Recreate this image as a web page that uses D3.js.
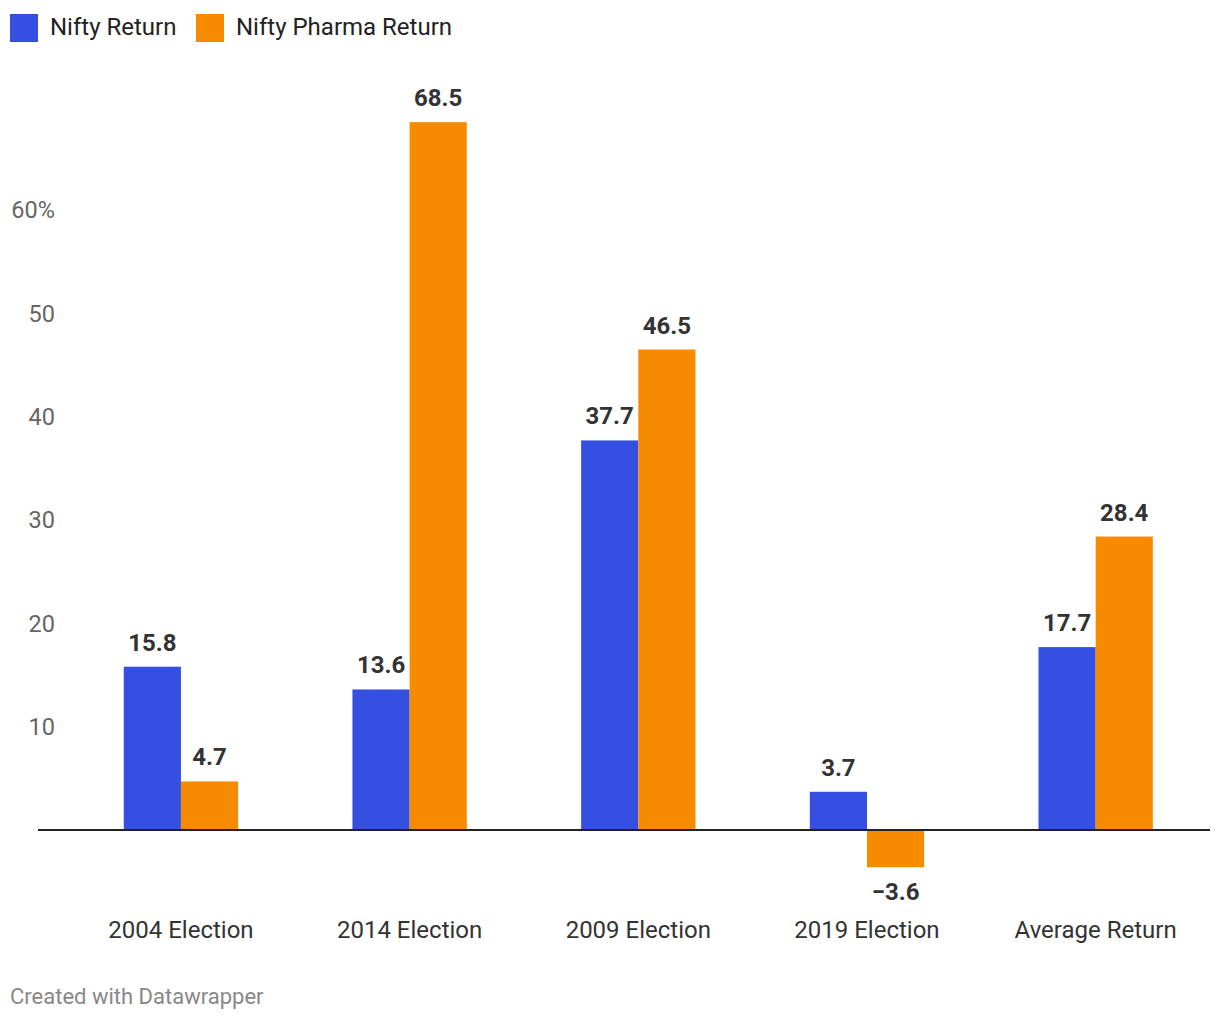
<!DOCTYPE html>
<html><head><meta charset="utf-8">
<script src="https://cdn.jsdelivr.net/npm/d3@7"></script>
<style>body{margin:0;background:#fff}svg{display:block;font-family:Roboto,sans-serif}</style>
</head><body>
<svg id="c" width="1220" height="1020"></svg>
<script>
const categories = ["2004 Election","2014 Election","2009 Election","2019 Election","Average Return"];
const seriesNames = ["Nifty Return","Nifty Pharma Return"];
const niftyReturn = [15.8,13.6,37.7,3.7,17.7];
const pharmaReturn = [4.7,68.5,46.5,-3.6,28.4];
const yTicks = [10,20,30,40,50,60];
const colors = ["#3550e0","#f78b00"];

const svg = d3.select("#c");
const x = d3.scaleBand().domain(categories).range([66.6,1210]).paddingInner(0).paddingOuter(0);
const y = d3.scaleLinear().domain([0,60]).range([830,210]);
const barW = x.bandwidth()*0.25;

// y tick labels
svg.append("g").selectAll("text").data(yTicks).join("text")
  .attr("x",55).attr("y",d=>y(d)).attr("dy","0.35em").attr("text-anchor","end")
  .attr("font-size",23.5).attr("fill","#666").text(d=>d===60?d+"%":d);

const series = [niftyReturn, pharmaReturn];
series.forEach((vals,si)=>{
  const g = svg.append("g");
  g.selectAll("rect").data(vals).join("rect")
    .attr("x",(d,i)=>x(categories[i])+x.bandwidth()/2 - barW + si*barW)
    .attr("width",barW)
    .attr("y",d=>Math.min(y(d),y(0)))
    .attr("height",d=>Math.abs(y(d)-y(0)))
    .attr("fill",colors[si]);
  g.selectAll("text").data(vals).join("text")
    .attr("x",(d,i)=>x(categories[i])+x.bandwidth()/2 - barW/2 + si*barW)
    .attr("y",d=>d>=0? y(d)-16 : y(d)+33)
    .attr("text-anchor","middle").attr("font-size",24).attr("font-weight","bold").attr("fill","#333")
    .text(d=>d<0? "\u2212"+Math.abs(d).toFixed(1) : d.toFixed(1));
});

// baseline
svg.append("line").attr("x1",38).attr("x2",1210).attr("y1",y(0)).attr("y2",y(0))
  .attr("stroke","#222").attr("stroke-width",2);

// category labels
svg.append("g").selectAll("text").data(categories).join("text")
  .attr("x",d=>x(d)+x.bandwidth()/2).attr("y",938).attr("text-anchor","middle")
  .attr("font-size",24).attr("fill","#333").text(d=>d);

// legend
const legX = [10,196];
seriesNames.forEach((s,i)=>{
  svg.append("rect").attr("x",legX[i]).attr("y",14).attr("width",28).attr("height",28).attr("fill",colors[i]);
  svg.append("text").attr("x",legX[i]+40).attr("y",35).attr("font-size",24).attr("fill","#222").text(s);
});

// footer
svg.append("text").attr("x",10).attr("y",1004).attr("font-size",22).attr("fill","#888").text("Created with Datawrapper");
</script>
</body></html>
